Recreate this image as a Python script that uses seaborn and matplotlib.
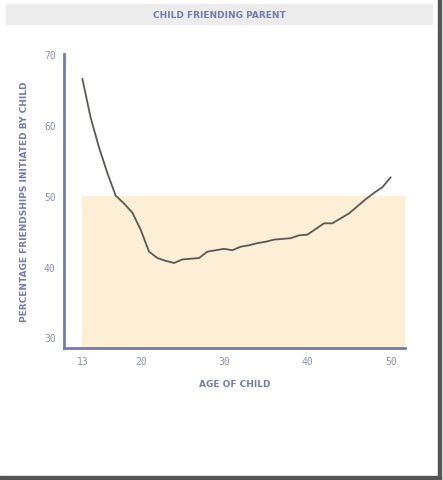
import matplotlib
matplotlib.use("Agg")
import matplotlib.pyplot as plt
import seaborn as sns
import pandas as pd
from matplotlib.patches import Rectangle

# data
ages = list(range(13, 51))
pct_child = [66.5, 61.0, 56.8, 53.2, 50.0, 48.9, 47.6, 45.2, 42.1, 41.2,
             40.8, 40.5, 41.0, 41.1, 41.2, 42.1, 42.3, 42.5, 42.3, 42.8,
             43.0, 43.3, 43.5, 43.8, 43.9, 44.0, 44.4, 44.5, 45.3, 46.1,
             46.1, 46.8, 47.5, 48.5, 49.5, 50.4, 51.2, 52.6]
x_ticks = [13, 20, 30, 40, 50]
y_ticks = [30, 40, 50, 60, 70]
threshold = 50

df = pd.DataFrame({'age': ages, 'pct': pct_child})

sns.set_style("white")
axis_col = '#6e7cb2'
tick_col = '#8a92b0'

fig = plt.figure(figsize=(4.43, 4.81), dpi=100)
ax = fig.add_axes([0.1445, 0.2744, 0.7695, 0.6113])

ax.fill_between([13, 51.7], 28.5, threshold, color='#fdeed6', lw=0, zorder=1)
sns.lineplot(data=df, x='age', y='pct', color='#5a5a55', linewidth=1.3, ax=ax, zorder=3)

ax.set_xlim(10.8, 51.7)
ax.set_ylim(28.5, 70)
ax.set_xticks(x_ticks)
ax.set_yticks(y_ticks)
ax.set_xticklabels([str(t) for t in x_ticks], family='DejaVu Sans Mono', fontsize=7, color=tick_col)
ax.set_yticklabels([str(t) for t in y_ticks], family='DejaVu Sans Mono', fontsize=7, color=tick_col)
ax.tick_params(axis='both', direction='out', length=4, width=1.5, color=axis_col, pad=2)
for s in ['top', 'right']:
    ax.spines[s].set_visible(False)
for s in ['left', 'bottom']:
    ax.spines[s].set_color(axis_col)
    ax.spines[s].set_linewidth(2)

ax.set_xlabel('AGE OF CHILD', fontsize=6.5, color=axis_col, fontweight='bold', labelpad=9)
ax.set_ylabel('PERCENTAGE FRIENDSHIPS INITIATED BY CHILD', fontsize=6.5, color=axis_col,
              fontweight='bold', labelpad=11)

# title band
fig.patches.append(Rectangle((6 / 443, 1 - 25 / 481), 426 / 443, 20 / 481,
                             transform=fig.transFigure, color='#ececec', zorder=0))
fig.text(219 / 443, 1 - 15.5 / 481, 'CHILD FRIENDING PARENT', ha='center', va='center',
         fontsize=6.5, fontweight='bold', color=axis_col)

# screenshot frame shadow
fig.patches.append(Rectangle((438 / 443, 0), 3 / 443, 1, transform=fig.transFigure,
                             color='#555555', zorder=0))
fig.patches.append(Rectangle((0, 1.5 / 481), 441 / 443, 3 / 481, transform=fig.transFigure,
                             color='#555555', zorder=0))

fig.savefig('out.png', dpi=100)
